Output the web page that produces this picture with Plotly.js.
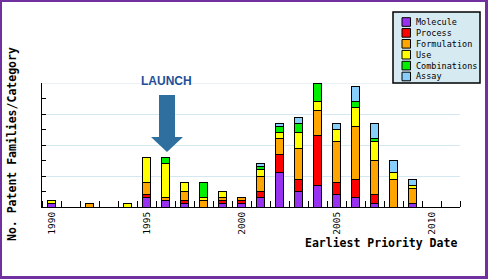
<!DOCTYPE html>
<html>
<head>
<meta charset="utf-8">
<script src="https://cdn.plot.ly/plotly-3.0.1.min.js"></script>
<style>
  html, body { margin: 0; padding: 0; background: #fff; }
  #wrap { position: relative; width: 488px; height: 279px; }
  #chart { width: 488px; height: 279px; }
  #wrap::after { content: ""; position: absolute; left: 0; top: 0; right: 0; bottom: 0;
    border-left: 2px solid #7030a0; border-top: 2px solid #7030a0;
    border-right: 3px solid #7030a0; border-bottom: 3px solid #7030a0; pointer-events: none; }
</style>
</head>
<body>
<div id="wrap"><div id="chart"></div></div>
<script>
// ---- data ----
var years = [1990,1991,1992,1993,1994,1995,1996,1997,1998,1999,2000,2001,2002,2003,2004,2005,2006,2007,2008,2009];
var seriesNames = ["Molecule","Process","Formulation","Use","Combinations","Assay"];
var seriesColors = ["#9932f0","#ff0000","#ffa500","#ffff00","#00ee00","#87cefa"];
var molecule     = [1,0,0,0,0,3,2,1,0,1,1,3,11,5,7,4,3,1,0,1];
var process      = [0,0,0,0,0,1,0,1,0,1,1,2,6,4,16,4,6,3,0,0];
var formulation  = [0,0,1,0,0,4,1,3,2,1,1,5,5,10,8,13,17,11,9,5];
var use          = [1,0,0,0,1,8,11,3,1,2,0,2,2,5,3,4,6,6,2,1];
var combinations = [0,0,0,0,0,0,2,0,5,0,0,1,2,3,6,0,2,1,0,0];
var assay        = [0,0,0,0,0,0,0,0,0,0,0,1,1,2,0,2,5,5,4,2];
var xTickVals = [1990,1995,2000,2005,2010];
var seriesValues = [molecule, process, formulation, use, combinations, assay];

// ---- layout geometry (pixels) ----
var L = 42, R = 460, T = 83, B = 207;
var yMax = 40;
function px(x) { return (x - L) / (R - L); }
function py(y) { return (B - y) / (B - T); }
function pathFrom(pts) {
  return pts.map(function (p, i) { return (i ? "L" : "M") + px(p[0]).toFixed(4) + "," + py(p[1]).toFixed(4); }).join(" ") + " Z";
}

var mono = "DejaVu Sans Mono, monospace";

var traces = seriesNames.map(function (name, i) {
  return {
    type: "bar",
    name: name,
    x: years,
    y: seriesValues[i].map(function (v) { return v || null; }),
    width: 0.45,
    marker: { color: seriesColors[i], line: { color: "#000", width: 1 } },
    showlegend: false,
    hoverinfo: "x+y+name"
  };
});

var shapes = [];
var annotations = [];

// top gridline (at the range edge)
shapes.push({
  type: "line", xref: "paper", yref: "y", x0: 0, x1: 1, y0: yMax, y1: yMax,
  line: { color: "#d3e8f0", width: 1 }, layer: "below"
});

// arrow
shapes.push({
  type: "path", xref: "paper", yref: "paper",
  path: pathFrom([[159,95],[175,95],[175,137],[183,137],[167,152],[151,137],[159,137]]),
  fillcolor: "#2e6f9f", line: { width: 0 }
});
annotations.push({
  xref: "paper", yref: "paper", x: px(166.5), y: py(81), xanchor: "center", yanchor: "middle",
  text: "<b>LAUNCH</b>", showarrow: false,
  font: { family: "Liberation Sans, Arial, sans-serif", size: 12, color: "#1f4f9a" }
});

// custom compact legend
shapes.push({
  type: "rect", xref: "paper", yref: "paper",
  x0: px(393), x1: px(480), y0: py(12), y1: py(83),
  fillcolor: "#d6eaf2", line: { color: "#000", width: 1.5 }
});
seriesNames.forEach(function (name, i) {
  var cy = 22 + i * 10.9;
  shapes.push({
    type: "rect", xref: "paper", yref: "paper",
    x0: px(402), x1: px(410.5), y0: py(cy - 4.3), y1: py(cy + 4.3),
    fillcolor: seriesColors[i], line: { color: "#000", width: 1 }
  });
  annotations.push({
    xref: "paper", yref: "paper", x: px(414), y: py(cy), xanchor: "left", yanchor: "middle",
    text: name, showarrow: false, font: { family: mono, size: 8.5, color: "#000" }
  });
});

// axis titles
annotations.push({
  xref: "paper", yref: "paper", x: px(459), y: py(243), xanchor: "right", yanchor: "middle",
  text: "<b>Earliest Priority Date</b>", showarrow: false,
  font: { family: mono, size: 11.5, color: "#000" }
});
annotations.push({
  xref: "paper", yref: "paper", x: px(12), y: py(144), xanchor: "center", yanchor: "middle",
  text: "<b>No. Patent Families/Category</b>", showarrow: false, textangle: -90,
  font: { family: mono, size: 11.5, color: "#000" }
});

var layout = {
  width: 488, height: 279,
  margin: { l: L, r: 488 - R, t: T, b: 279 - B, pad: 0 },
  paper_bgcolor: "#fff", plot_bgcolor: "#fff",
  barmode: "stack",
  showlegend: false,
  font: { family: mono, color: "#000" },
  xaxis: {
    range: [1989.5, 2011.5], fixedrange: true,
    showline: true, linecolor: "#000", linewidth: 1,
    showgrid: false, zeroline: false,
    tickmode: "array", tickvals: xTickVals, ticktext: xTickVals.map(String),
    ticks: "", tickangle: -90, tickfont: { family: mono, size: 9.5, color: "#000" },
    minor: { tick0: 1989.5, dtick: 1, ticks: "inside", ticklen: 6, tickcolor: "#000", tickwidth: 1, showgrid: false }
  },
  yaxis: {
    range: [0, yMax], fixedrange: true,
    showline: true, linecolor: "#000", linewidth: 1,
    showgrid: true, gridcolor: "#d3e8f0", gridwidth: 1, zeroline: false,
    dtick: 10, ticks: "inside", ticklen: 4, tickcolor: "#000", showticklabels: false,
    minor: { dtick: 5, ticks: "inside", ticklen: 4, tickcolor: "#000", showgrid: false }
  },
  shapes: shapes,
  annotations: annotations
};

Plotly.newPlot("chart", traces, layout, { staticPlot: true, displayModeBar: false });
</script>
</body>
</html>
